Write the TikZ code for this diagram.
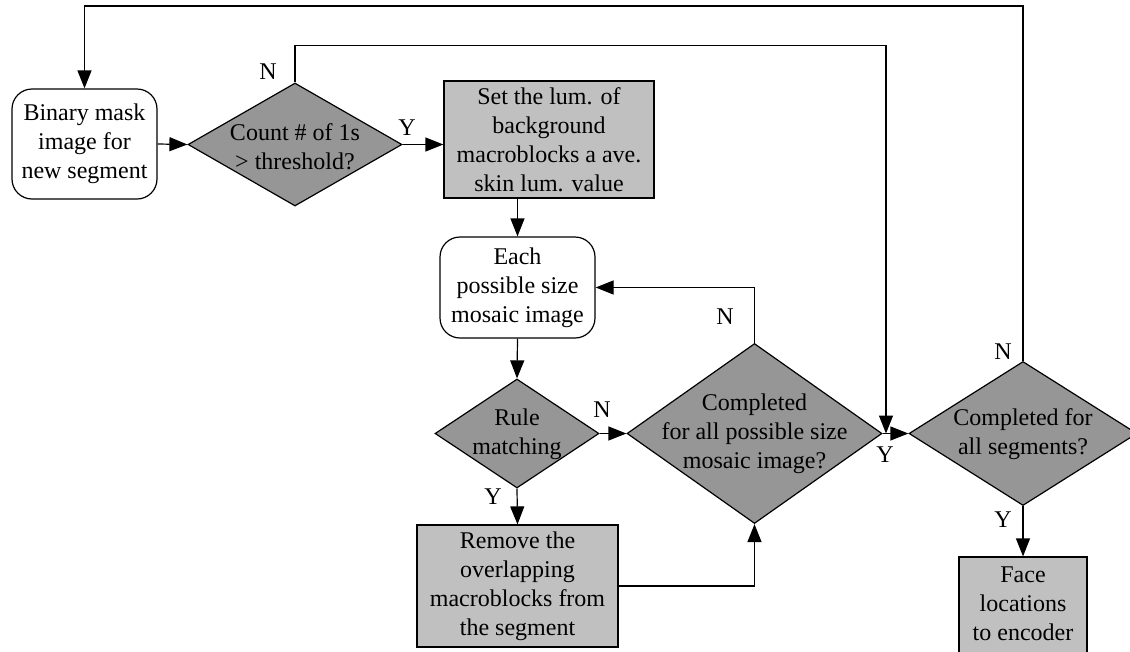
\documentclass[tikz,border=0pt]{standalone}
\usepackage{fontspec}
\setmainfont{Liberation Serif}
\usetikzlibrary{shapes.geometric,arrows.meta}
\definecolor{decfill}{HTML}{969696}
\definecolor{boxfill}{HTML}{C0C0C0}
\tikzset{
  every node/.style={font=\fontsize{24}{29}\selectfont},
  base/.style={draw, line width=1.2pt, inner sep=0pt, align=center},
  roundbox/.style={base, rectangle, rounded corners=20pt, fill=white},
  procbox/.style={base, rectangle, fill=boxfill},
  decision/.style={base, diamond, fill=decfill},
  txt/.style={inner sep=0pt, align=center},
  lbl/.style={inner sep=0pt},
  conn/.style={line width=1.2pt},
  arr/.style={conn, -{Triangle[length=18pt,width=14pt]}},
}
\begin{document}
\begin{tikzpicture}[x=1pt,y=-1pt]
\useasboundingbox (0,0) rectangle (1130,651);
\clip (0,0) rectangle (1130,651);

% process boxes
\node[roundbox, minimum width=145pt, minimum height=110pt] (bin) at (84.5,144)
  {Binary mask\\image for\\new segment};
\node[procbox, minimum width=210pt, minimum height=117pt] (set) at (549,139.5)
  {Set the lum. of\\background\\macroblocks a ave.\\skin lum. value};
\node[roundbox, minimum width=155pt, minimum height=101pt] (each) at (517.5,287.5)
  {Each\\possible size\\mosaic image};
\node[procbox, minimum width=201pt, minimum height=122pt] (rem) at (517.5,586)
  {Remove the\\overlapping\\macroblocks from\\the segment};
\node[procbox, minimum width=128pt, minimum height=104pt] (face) at (1023,609)
  {};
\node[txt] (facetxt) at (1023,604) {Face\\locations\\to encoder};

% decisions
\node[decision, minimum width=214pt, minimum height=123pt] (cnt) at (295,144.5) {};
\node[txt] (cnttxt) at (295,147) {Count \# of 1s\\> threshold?};
\node[decision, minimum width=164pt, minimum height=109pt] (rule) at (517,433.5) {};
\node[txt] (ruletxt) at (517,434) {Rule\\matching};
\node[decision, minimum width=255pt, minimum height=180pt] (comp) at (754.5,433.5) {};
\node[txt] (comptxt) at (754.5,434) {Completed\\for all possible size\\mosaic image?};
\node[decision, minimum width=228pt, minimum height=144pt] (segs) at (1023,433.5) {};
\node[txt] (segstxt) at (1023,434) {Completed for\\all segments?};

% junction where the skip path meets the segment loop
\coordinate (join) at (886,433.5);

% connectors
\draw[arr] (bin.east) -- (cnt.west);
\draw[arr] (cnt.east) -- (cnt.east -| set.west);
\draw[arr] (set.south -| each.north) -- (each.north);
\draw[arr] (each.south) -- (rule.north);
\draw[arr] (rule.east) -- (comp.west);
\draw[arr] (rule.south) -- (rem.north);
\draw[arr] (rem.east) -| (comp.south);
\draw[arr] (comp.north) |- (each.east);
\draw[arr] (comp.east) -- (segs.west);
\draw[arr] (cnt.north) -- ++(0,-37) -| (join);
\draw[arr] (segs.north) -- ++(0,-355) -| (bin.north);
\draw[arr] (segs.south) -- (face.north);

% branch labels
\node[lbl] (lN1) at (268,72) {N};
\node[lbl] (lY1) at (407,128) {Y};
\node[lbl] (lN2) at (602,410) {N};
\node[lbl] (lY2) at (493,497) {Y};
\node[lbl] (lN3) at (725,317) {N};
\node[lbl] (lY3) at (885,455) {Y};
\node[lbl] (lN4) at (1003,352) {N};
\node[lbl] (lY4) at (1003,520) {Y};
\end{tikzpicture}
\end{document}
